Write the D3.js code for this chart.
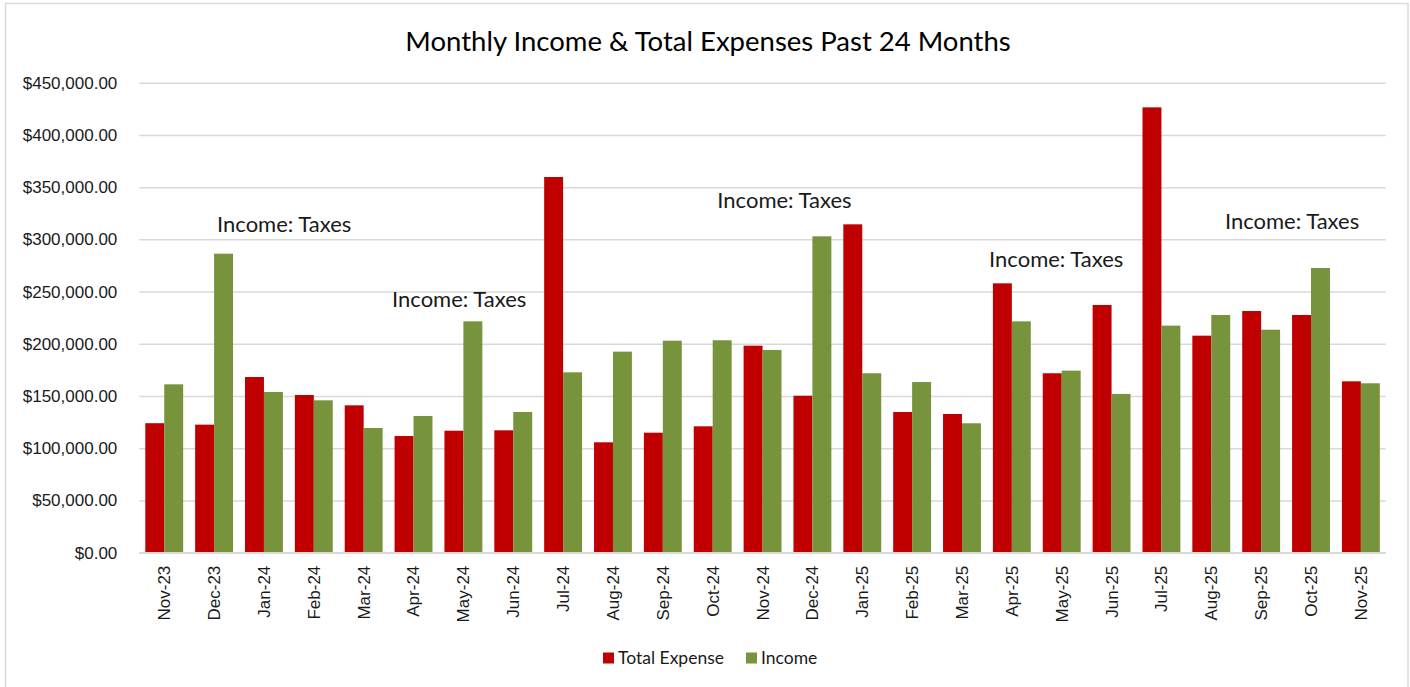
<!DOCTYPE html>
<meta charset="utf-8">
<script src="https://d3js.org/d3.v7.min.js"></script>
<style type="text/css">
body { margin: 0; background: #fff; }
svg { font-family: Lato, "Open Sans", sans-serif; }
.grid line { stroke: #d9d9d9; stroke-width: 1.5; }
.grid path { stroke: none; }
.eixo text { fill: #1a1a1a; }
.eixo path, .eixo line { stroke: none; }
.nota { fill: #1a1a1a; }
</style>
<body>
<div id="canvas"></div>
<script>

	// meses (categorias)
	var months = ["Nov-23","Dec-23","Jan-24","Feb-24","Mar-24","Apr-24","May-24","Jun-24",
		"Jul-24","Aug-24","Sep-24","Oct-24","Nov-24","Dec-24","Jan-25","Feb-25",
		"Mar-25","Apr-25","May-25","Jun-25","Jul-25","Aug-25","Sep-25","Oct-25","Nov-25"];

	// valores
	var totalExpense = [124000,122600,168200,151000,141100,111700,116800,117200,
		359700,105700,114900,121000,198200,150300,314400,134700,
		132800,257900,171800,237200,426400,207800,231400,227600,164100];
	var income = [161200,286300,153900,145900,119400,130900,221500,134700,
		172700,192500,203000,203400,194100,302900,171800,163400,
		123900,221500,174300,152000,217400,227600,213500,272600,162200];

	var seriesNames = ["Total Expense", "Income"];
	var seriesColors = ["#c00000", "#77933c"];

	var yTicks = [0,50000,100000,150000,200000,250000,300000,350000,400000,450000];

	// notas "Income: Taxes" : posicao em meses (fracao) e valor
	var notes = [
		{"texto": "Income: Taxes", "pos": 2.906, "valor": 314700},
		{"texto": "Income: Taxes", "pos": 6.416, "valor": 242600},
		{"texto": "Income: Taxes", "pos": 12.94, "valor": 337000},
		{"texto": "Income: Taxes", "pos": 18.39, "valor": 281200},
		{"texto": "Income: Taxes", "pos": 23.12, "valor": 317600}
	];

	var width = 1410;
	var height = 687;
	var margin = {top: 82.7, right: 24.2, bottom: 134.3, left: 139.3};

	var svg = d3.select('#canvas')
		.append("svg")
		.attr('width', width)
		.attr('height', height);

	// borda do grafico
	svg.append("rect")
		.attr("x", 5.5).attr("y", 3.5)
		.attr("width", 1402.5).attr("height", 690)
		.style("fill", "none")
		.style("stroke", "#d9d9d9")
		.style("stroke-width", 1.5);

	var w = width - margin.left - margin.right;
	var h = height - margin.top - margin.bottom;

	var g = svg.append("g")
		.attr("transform", "translate(" + margin.left + "," + margin.top + ")");

	// eixo X --------------------------------------------------
	var x = d3.scaleBand()
		.domain(months)
		.range([0, w])
		.paddingInner(0.24)
		.paddingOuter(0.12);

	var xs = d3.scaleBand()
		.domain(seriesNames)
		.range([0, x.bandwidth()]);

	// eixo Y --------------------------------------------------
	var y = d3.scaleLinear()
		.domain([0, 450000])
		.range([h, 0]);

	g.append("g")
		.attr("class", "grid")
		.call(d3.axisLeft(y).tickValues(yTicks).tickSize(-w).tickFormat(""));

	var fmt = d3.format("$,.2f");
	g.append("g")
		.attr("class", "eixo")
		.call(d3.axisLeft(y).tickValues(yTicks).tickSize(0).tickPadding(22).tickFormat(fmt))
		.selectAll("text")
		.style("font-size", "17px");

	// barras ---------------------------------------------------
	var series = [totalExpense, income];
	series.forEach(function(vals, s) {
		g.selectAll(".bar" + s)
			.data(vals)
			.enter().append("rect")
			.attr("x", function(d, i) { return x(months[i]) + xs(seriesNames[s]); })
			.attr("y", function(d) { return y(d); })
			.attr("width", xs.bandwidth())
			.attr("height", function(d) { return h - y(d); })
			.style("fill", seriesColors[s]);
	});

	// linha base
	g.append("line")
		.attr("x1", 0).attr("x2", w)
		.attr("y1", y(0)).attr("y2", y(0))
		.style("stroke", "#d9d9d9")
		.style("stroke-width", 1.5);

	var xAxis = g.append("g")
		.attr("class", "eixo")
		.attr("transform", "translate(0," + h + ")")
		.call(d3.axisBottom(x).tickSize(0));
	xAxis.selectAll("text")
		.style("font-size", "17px")
		.style("text-anchor", "end")
		.attr("transform", "rotate(-90)")
		.attr("x", -13)
		.attr("y", 0)
		.attr("dy", "0.35em");

	// notas ---------------------------------------------------
	g.selectAll(".nota")
		.data(notes)
		.enter().append("text")
		.attr("class", "nota")
		.attr("x", function(d) { return d.pos * x.step(); })
		.attr("y", function(d) { return y(d.valor); })
		.attr("dy", "0.35em")
		.style("text-anchor", "middle")
		.style("font-size", "22px")
		.text(function(d) { return d.texto; });

	// titulo
	svg.append("text")
		.attr("x", margin.left + w / 2 - 54.5)
		.attr("y", 41)
		.attr("dy", "0.35em")
		.style("text-anchor", "middle")
		.style("font-size", "27.5px")
		.style("fill", "#000")
		.text("Monthly Income & Total Expenses Past 24 Months");

	// legenda -------------------------------------------------
	var leg = svg.append("g")
		.attr("transform", "translate(603,652.5)");
	var legX = [0, 143];
	seriesNames.forEach(function(n, i) {
		leg.append("rect")
			.attr("x", legX[i]).attr("y", 0)
			.attr("width", 11).attr("height", 11)
			.style("fill", seriesColors[i]);
		leg.append("text")
			.attr("x", legX[i] + 15)
			.attr("y", 5.5)
			.attr("dy", "0.35em")
			.style("font-size", "17.5px")
			.style("fill", "#1a1a1a")
			.text(n);
	});
</script>
</body>
